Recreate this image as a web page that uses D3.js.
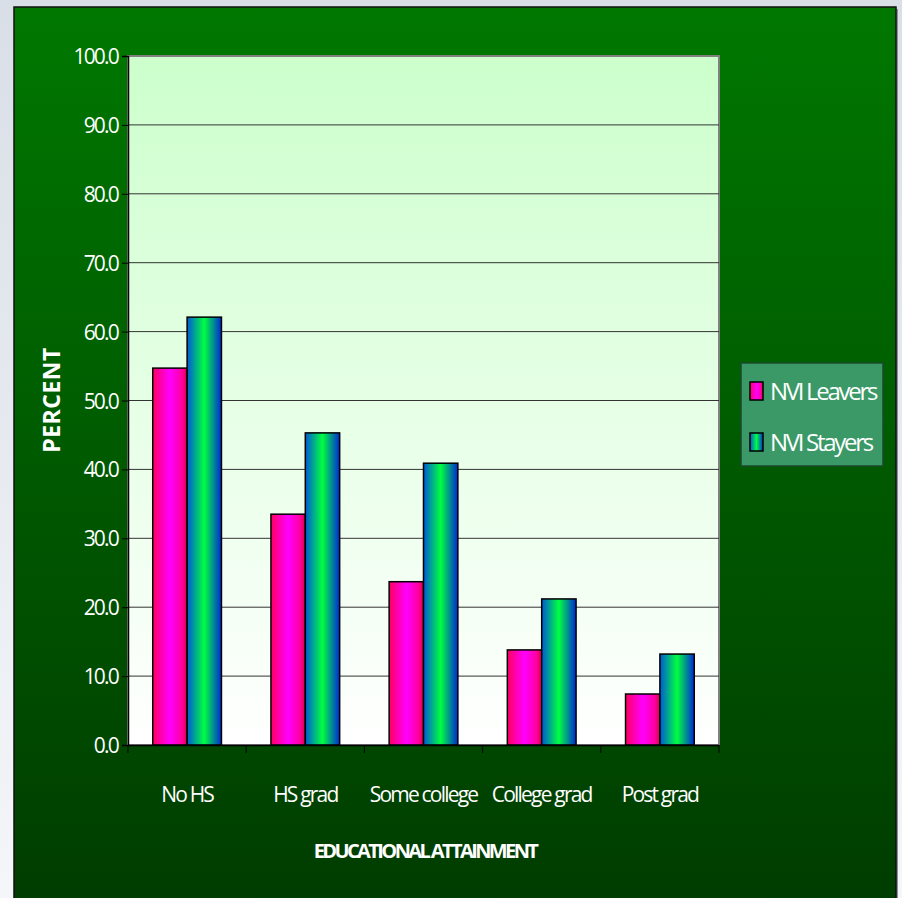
<!DOCTYPE html>
<html lang="en">
<head>
  <meta charset="UTF-8">
  <title>Educational attainment - D3</title>
  <script src="https://d3js.org/d3.v7.min.js"></script>
  <style>
    body {
      margin: 0;
      background: #eef1f5;
    }

    .lbl {
      font-family: "Open Sans", sans-serif;
      fill: #fff;
      font-size: 21px;
      letter-spacing: -1.8px;
    }

    .axis-title {
      font-family: "Open Sans", sans-serif;
      font-weight: bold;
      fill: #fff;
      font-size: 20px;
    }
  </style>
</head>
<body>

<script>
  // data
  var categories = ["No HS", "HS grad", "Some college", "College grad", "Post grad"];
  var seriesNames = ["NVI Leavers", "NVI Stayers"];
  var leavers = [54.7, 33.5, 23.7, 13.8, 7.4];
  var stayers = [62.1, 45.3, 40.9, 21.2, 13.2];
  var yTicks = [0, 10, 20, 30, 40, 50, 60, 70, 80, 90, 100];

  var W = 902, H = 898;
  var plot = { left: 128, right: 719, top: 56, bottom: 745 };

  var svg = d3.select("body").append("svg")
              .attr("width", W)
              .attr("height", H);

  var defs = svg.append("defs");

  // page background
  var bgGrad = defs.append("linearGradient").attr("id", "pagebg")
                   .attr("x1", 0).attr("y1", 0).attr("x2", 0).attr("y2", 1);
  bgGrad.append("stop").attr("offset", "0%").attr("stop-color", "#d9dfe7");
  bgGrad.append("stop").attr("offset", "100%").attr("stop-color", "#f4f6f9");
  svg.append("rect").attr("width", W).attr("height", H).attr("fill", "url(#pagebg)");

  // outer green panel
  var greenGrad = defs.append("linearGradient").attr("id", "green")
                      .attr("x1", 0).attr("y1", 0).attr("x2", 0).attr("y2", 1);
  greenGrad.append("stop").attr("offset", "0%").attr("stop-color", "#007800");
  greenGrad.append("stop").attr("offset", "100%").attr("stop-color", "#003c00");
  svg.append("rect").attr("x", 16).attr("y", 9).attr("width", 882).attr("height", 900)
     .attr("fill", "#8a9099");
  svg.append("rect").attr("x", 14).attr("y", 7).attr("width", 882).attr("height", 900)
     .attr("fill", "url(#green)").attr("stroke", "#111").attr("stroke-width", 1.5);

  // plot area
  var plotGrad = defs.append("linearGradient").attr("id", "plotbg")
                     .attr("x1", 0).attr("y1", 0).attr("x2", 0).attr("y2", 1);
  plotGrad.append("stop").attr("offset", "0%").attr("stop-color", "#ccffcc");
  plotGrad.append("stop").attr("offset", "100%").attr("stop-color", "#ffffff");
  svg.append("rect")
     .attr("x", plot.left).attr("y", plot.top)
     .attr("width", plot.right - plot.left).attr("height", plot.bottom - plot.top)
     .attr("fill", "url(#plotbg)").attr("stroke", "#808080").attr("stroke-width", 2);

  // bar gradients
  var redGrad = defs.append("linearGradient").attr("id", "red")
                    .attr("x1", 0).attr("y1", 0).attr("x2", 1).attr("y2", 0);
  [["0%", "#ff0060"], ["50%", "#ff00ff"], ["85%", "#ff00a0"], ["100%", "#e00040"]].forEach(function(s) {
    redGrad.append("stop").attr("offset", s[0]).attr("stop-color", s[1]);
  });
  var blueGrad = defs.append("linearGradient").attr("id", "blue")
                     .attr("x1", 0).attr("y1", 0).attr("x2", 1).attr("y2", 0);
  [["0%", "#0058d8"], ["50%", "#00ff40"], ["100%", "#0028d8"]].forEach(function(s) {
    blueGrad.append("stop").attr("offset", s[0]).attr("stop-color", s[1]);
  });
  var fills = ["url(#red)", "url(#blue)"];

  // scales
  var x = d3.scaleBand().domain(categories).range([plot.left, plot.right]).padding(0);
  var inner = d3.scaleBand().domain(seriesNames)
                .range([0, x.bandwidth()]).paddingInner(0).paddingOuter(0.72);
  var y = d3.scaleLinear().domain([0, 100]).range([plot.bottom, plot.top]);

  // gridlines
  svg.append("g").selectAll("line")
     .data(yTicks.slice(1, -1))
     .enter().append("line")
     .attr("x1", plot.left).attr("x2", plot.right)
     .attr("y1", d => y(d)).attr("y2", d => y(d))
     .attr("stroke", "#333").attr("stroke-width", 1);

  // bars
  var rows = categories.map((c, i) => ({ cat: c, vals: [leavers[i], stayers[i]] }));
  var groups = svg.append("g").selectAll("g")
                  .data(rows).enter().append("g")
                  .attr("transform", d => `translate(${x(d.cat)},0)`);
  groups.selectAll("rect")
        .data(d => d.vals.map((v, j) => ({ name: seriesNames[j], v: v, j: j })))
        .enter().append("rect")
        .attr("x", d => inner(d.name))
        .attr("y", d => y(d.v))
        .attr("width", inner.bandwidth())
        .attr("height", d => y(0) - y(d.v))
        .attr("fill", d => fills[d.j])
        .attr("stroke", "#000").attr("stroke-width", 1.5);

  // y axis
  var yAxis = svg.append("g")
                 .attr("transform", `translate(${plot.left},0)`)
                 .call(d3.axisLeft(y).tickValues(yTicks).tickSize(6).tickFormat(d3.format(".1f")));
  yAxis.select(".domain").attr("stroke", "#000").attr("stroke-width", 1.5);
  yAxis.selectAll(".tick line").attr("stroke", "#000");
  yAxis.selectAll(".tick text").attr("class", "lbl").attr("x", -10).attr("dy", "0.36em");

  // x axis
  var xAxis = svg.append("g")
                 .attr("transform", `translate(0,${plot.bottom})`)
                 .call(d3.axisBottom(x).tickSize(0).tickPadding(0));
  xAxis.select(".domain").attr("stroke", "#000").attr("stroke-width", 1.5);
  xAxis.selectAll(".tick text").attr("class", "lbl").attr("y", 57).attr("dy", 0);
  xAxis.append("g").selectAll("line")
       .data(categories.map(c => x(c)).concat([plot.right]))
       .enter().append("line")
       .attr("x1", d => d).attr("x2", d => d)
       .attr("y1", 0).attr("y2", 8)
       .attr("stroke", "#000");

  // axis titles
  svg.append("text")
     .attr("class", "axis-title")
     .attr("x", 425).attr("y", 858)
     .attr("text-anchor", "middle")
     .attr("letter-spacing", "-2.6px")
     .text("EDUCATIONAL ATTAINMENT");

  svg.append("text")
     .attr("class", "axis-title")
     .attr("transform", "translate(60,400) rotate(-90)")
     .attr("text-anchor", "middle")
     .style("font-size", "23px")
     .attr("letter-spacing", "0.5px")
     .text("PERCENT");

  // legend
  var legend = svg.append("g").attr("transform", "translate(741,363)");
  legend.append("rect").attr("width", 142).attr("height", 103)
        .attr("fill", "#3a9966").attr("stroke", "#1a4a2a").attr("stroke-width", 1.5);
  var items = legend.selectAll(".item").data(seriesNames).enter().append("g")
                    .attr("class", "item")
                    .attr("transform", (d, i) => `translate(9,${19 + i * 51})`);
  items.append("rect").attr("width", 13).attr("height", 18)
       .attr("fill", (d, i) => fills[i]).attr("stroke", "#000").attr("stroke-width", 1.5);
  items.append("text").attr("class", "lbl")
       .attr("x", 20).attr("y", 18)
       .style("font-size", "24px")
       .style("letter-spacing", "-2.3px")
       .text(d => d);
</script>

</body>
</html>
